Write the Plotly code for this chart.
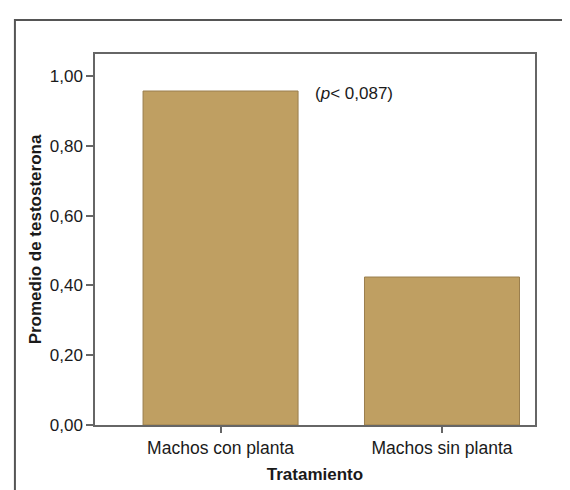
import plotly.graph_objects as go

categories = ["Machos con planta", "Machos sin planta"]
values = [0.957, 0.424]
y_ticks = [0.0, 0.2, 0.4, 0.6, 0.8, 1.0]
y_tick_labels = ["0,00", "0,20", "0,40", "0,60", "0,80", "1,00"]

FONT = "Liberation Sans, Arial, sans-serif"

fig = go.Figure()
fig.add_trace(go.Bar(
    x=categories, y=values, width=0.70,
    marker=dict(color="#BF9F62", line=dict(color="#9A7E4E", width=1)),
    showlegend=False, hoverinfo="skip",
))

fig.update_layout(
    width=570, height=490,
    margin=dict(l=87, r=43, t=46, b=73),
    paper_bgcolor="white", plot_bgcolor="white",
    font=dict(family=FONT, size=17, color="#1a1a1a"),
    xaxis=dict(
        range=[-0.567, 1.42], showline=True, linecolor="#666666", linewidth=1.5,
        mirror=True, ticks="outside", ticklen=6, tickcolor="#666666", tickwidth=1.5,
        showgrid=False, zeroline=False,
        title=dict(text="<b>Tratamiento</b>", font=dict(size=17), standoff=11),
        tickfont=dict(size=17.5),
    ),
    yaxis=dict(
        range=[0, 1.063], showline=True, linecolor="#666666", linewidth=1.5,
        mirror=True, ticks="outside", ticklen=7, tickcolor="#666666", tickwidth=1.5,
        tickvals=y_ticks, ticktext=y_tick_labels, showgrid=False, zeroline=False,
        title=dict(text="<b>Promedio de testosterona</b>", font=dict(size=17), standoff=4),
        tickfont=dict(size=17),
    ),
    shapes=[dict(
        type="rect", xref="paper", yref="paper",
        x0=-0.182, x1=1.3, y0=-0.4, y1=1.0916,
        line=dict(color="#555555", width=2), fillcolor="rgba(0,0,0,0)", layer="below",
    )],
    annotations=[dict(
        x=0.417, y=0.951, xref="x", yref="y", xanchor="left", yanchor="middle",
        text="(<i>p</i>< 0,087)", showarrow=False, font=dict(size=17),
    )],
)

fig.write_html("out.html")
